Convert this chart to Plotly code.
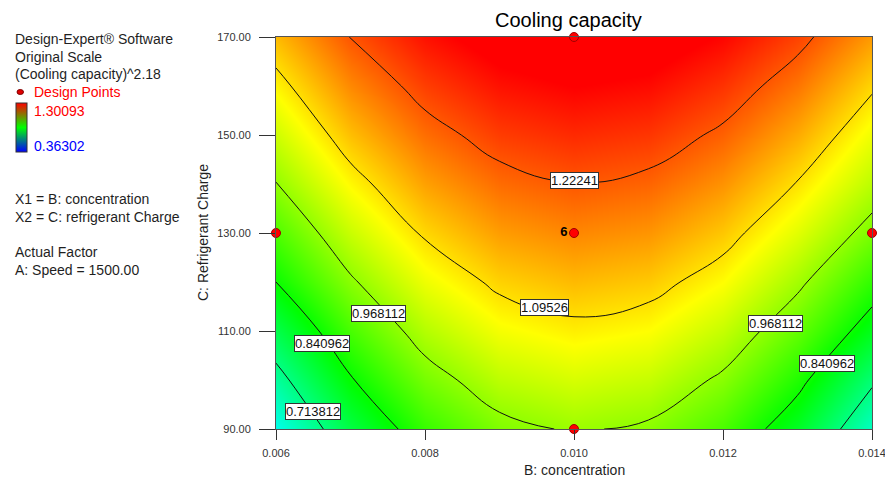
import plotly.graph_objects as go

# ---------------- data ----------------
concentration = [0.006, 0.007, 0.008, 0.009, 0.010, 0.011, 0.012, 0.013, 0.014]
refrigerant_charge = [90, 100, 110, 120, 130, 140, 150, 160, 170]
# cooling capacity estimated on the grid (rows = refrigerant charge, cols = concentration)
capacity_90 = [0.616, 0.770, 0.881, 0.949, 0.975, 0.958, 0.899, 0.797, 0.653]
capacity_100 = [0.688, 0.835, 0.940, 1.005, 1.029, 1.013, 0.957, 0.861, 0.725]
capacity_110 = [0.763, 0.898, 0.997, 1.058, 1.081, 1.066, 1.013, 0.923, 0.808]
capacity_120 = [0.841, 0.959, 1.051, 1.108, 1.130, 1.116, 1.067, 0.982, 0.875]
capacity_130 = [0.903, 1.017, 1.103, 1.157, 1.177, 1.164, 1.118, 1.039, 0.944]
capacity_140 = [0.966, 1.072, 1.153, 1.202, 1.221, 1.209, 1.166, 1.092, 1.003]
capacity_150 = [1.021, 1.126, 1.200, 1.246, 1.263, 1.252, 1.212, 1.144, 1.052]
capacity_160 = [1.075, 1.176, 1.244, 1.286, 1.302, 1.292, 1.255, 1.193, 1.104]
capacity_170 = [1.130, 1.224, 1.286, 1.324, 1.339, 1.330, 1.297, 1.240, 1.159]
capacity = [capacity_90, capacity_100, capacity_110, capacity_120, capacity_130,
            capacity_140, capacity_150, capacity_160, capacity_170]

color_min = 0.36302
color_max = 1.30093
contour_levels = [0.713812, 0.840962, 0.968112, 1.09526, 1.22241]

design_conc = [0.006, 0.014, 0.010, 0.010, 0.010]
design_charge = [130, 130, 170, 90, 130]
design_text = ["", "", "", "", "<b>6</b>"]

x_ticks = [0.006, 0.008, 0.010, 0.012, 0.014]
y_ticks = [90, 110, 130, 150, 170]

# contour label placement (level index, concentration, charge)
label_places = [
    (4, 0.0100, 140.8),
    (3, 0.00961, 114.7),
    (2, 0.00737, 113.5),
    (1, 0.00662, 107.5),
    (0, 0.00649, 93.6),
    (2, 0.01271, 111.5),
    (1, 0.01340, 103.4),
]

# ---------------- figure ----------------
W, H = 885, 481
L, R, T, B = 276, 13, 37, 52
PW, PH = W - L - R, H - T - B


def px(xp):
    return (xp - L) / PW


def py(yp):
    return (H - B - yp) / PH


FONT = "Liberation Sans, Arial, sans-serif"
TXT = "#1f1f1f"

colorscale = [[0.0, "#0000ff"], [0.25, "#00ffff"], [0.5, "#00ff00"],
              [0.75, "#ffff00"], [1.0, "#ff0000"]]
legend_scale = [[0.0, "#0000ff"], [0.5, "#00ff00"], [1.0, "#ff0000"]]

fig = go.Figure()
fig.add_trace(go.Heatmap(
    x=concentration, y=refrigerant_charge, z=capacity,
    colorscale=colorscale, zmin=color_min, zmax=color_max, zauto=False,
    zsmooth="best", showscale=False, hoverinfo="skip",
))
levels_step = contour_levels[1] - contour_levels[0]
fig.add_trace(go.Contour(
    x=concentration, y=refrigerant_charge, z=capacity,
    contours=dict(coloring="none", start=contour_levels[0],
                  end=contour_levels[-1] + levels_step / 2,
                  size=levels_step, showlabels=False),
    line=dict(color="#111111", width=1, smoothing=1.3),
    showscale=False, hoverinfo="skip",
))
# colour legend bar (gradient only)
fig.add_trace(go.Scatter(
    x=[None, None], y=[None, None], mode="markers", showlegend=False,
    marker=dict(color=[color_min, color_max], cmin=color_min, cmax=color_max,
                colorscale=legend_scale, showscale=True,
                colorbar=dict(x=px(16), xanchor="left", y=py(103),
                              yanchor="top", len=49, lenmode="pixels",
                              thickness=11, thicknessmode="pixels", xpad=0,
                              ypad=0, outlinewidth=1, outlinecolor="#333",
                              showticklabels=False, ticks="")),
    hoverinfo="skip",
))

fig.add_trace(go.Scatter(
    x=design_conc, y=design_charge, mode="markers+text",
    text=design_text, textposition="middle left",
    textfont=dict(family=FONT, size=13, color="#000"),
    marker=dict(color="#ff0000", size=9, line=dict(color="#a00000", width=1)),
    cliponaxis=False, showlegend=False, hoverinfo="skip",
))

annotations = []
for idx, xv, yv in label_places:
    annotations.append(dict(
        x=xv, y=yv, xref="x", yref="y", text=f"{contour_levels[idx]:g}",
        showarrow=False, font=dict(family=FONT, size=13, color="#111"),
        bgcolor="#ffffff", bordercolor="#333", borderwidth=1, borderpad=0,
    ))

left_lines = [
    ("Design-Expert® Software", 39, TXT, 13),
    ("Original Scale", 57, TXT, 13),
    ("(Cooling capacity)^2.18", 74, TXT, 13),
    ("Design Points", 92, "#ff0000", 32),
    (f"{color_max:g}", 111, "#ff0000", 32),
    (f"{color_min:g}", 146, "#0000ff", 32),
    ("X1 = B: concentration", 199, TXT, 13),
    ("X2 = C: refrigerant Charge", 217, TXT, 13),
    ("Actual Factor", 252, TXT, 13),
    ("A: Speed = 1500.00", 270, TXT, 13),
]
for text, yp, col, xp in left_lines:
    annotations.append(dict(
        x=px(xp), y=py(yp), xref="paper", yref="paper", text=text,
        showarrow=False, xanchor="left", yanchor="middle",
        font=dict(family=FONT, size=14, color=col),
    ))

annotations.append(dict(
    x=px(568), y=py(20), xref="paper", yref="paper", text="Cooling capacity",
    showarrow=False, xanchor="center", yanchor="middle",
    font=dict(family=FONT, size=20, color="#000")))
annotations.append(dict(
    x=0.5, y=py(470), xref="paper", yref="paper", text="B: concentration",
    showarrow=False, xanchor="center", yanchor="middle",
    font=dict(family=FONT, size=14, color=TXT)))
annotations.append(dict(
    x=px(203), y=0.5, xref="paper", yref="paper", text="C: Refrigerant Charge",
    showarrow=False, xanchor="center", yanchor="middle", textangle=-90,
    font=dict(family=FONT, size=14, color=TXT)))

shapes = [dict(type="circle", xref="paper", yref="paper",
               x0=px(17), x1=px(23.5), y0=py(89.5), y1=py(94.5),
               fillcolor="#e00000", line=dict(color="#800000", width=1))]

fig.update_layout(
    width=W, height=H, autosize=False,
    margin=dict(l=L, r=R, t=T, b=B, pad=0, autoexpand=False),
    paper_bgcolor="#ffffff", plot_bgcolor="#ffffff",
    showlegend=False,
    annotations=annotations, shapes=shapes,
    xaxis=dict(range=[0.006, 0.014], tickvals=x_ticks, tickformat=".3f",
               ticks="outside", ticklen=10, tickcolor="#333", tickwidth=1,
               showline=True, mirror=True, linecolor="#555", linewidth=1,
               showgrid=False, zeroline=False, ticklabelstandoff=4,
               ticklabeloverflow="allow",
               tickfont=dict(family=FONT, size=11, color="#333")),
    yaxis=dict(range=[90, 170], tickvals=y_ticks, tickformat=".2f",
               ticks="outside", ticklen=16, tickcolor="#333", tickwidth=1,
               showline=True, mirror=True, linecolor="#555", linewidth=1,
               showgrid=False, zeroline=False, ticklabelstandoff=6,
               ticklabeloverflow="allow",
               tickfont=dict(family=FONT, size=11, color="#333")),
)

fig.write_html("out.html",
               config={"displayModeBar": False},
               post_script="document.body.style.margin='0';"
                           "document.body.style.overflow='hidden';")
